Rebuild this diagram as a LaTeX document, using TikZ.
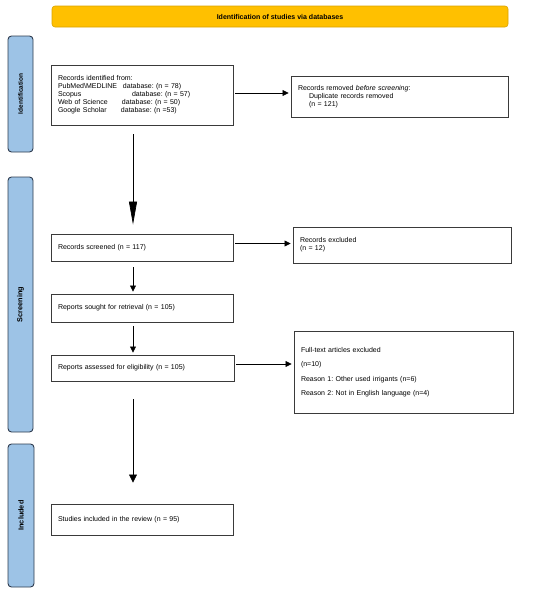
\documentclass[tikz,border=0pt]{standalone}
\usepackage{fontspec}
\setmainfont{Liberation Sans}
\usetikzlibrary{arrows.meta}
\definecolor{hdrfill}{HTML}{FFC000}
\definecolor{hdrdraw}{HTML}{D9A300}
\definecolor{barfill}{HTML}{9DC3E6}
\definecolor{bardraw}{HTML}{2E3B4E}
\definecolor{boxdraw}{HTML}{3A3A3A}
\frenchspacing
\begin{document}
\begin{tikzpicture}[x=1pt,y=-1pt,
  txt/.style={font=\fontsize{7}{8}\selectfont},
  header/.style={draw=hdrdraw, fill=hdrfill, rounded corners=3pt, line width=0.6pt,
    inner sep=0pt, font=\fontsize{7}{8}\selectfont\bfseries},
  sidebar/.style={draw=bardraw, fill=barfill, rounded corners=3.5pt, line width=0.9pt,
    inner sep=0pt, rotate=90, font=\fontsize{7.3}{8}\selectfont\bfseries},
  flowbox/.style={draw=boxdraw, line width=0.9pt, inner sep=0pt, align=left,
    txt},
  arr/.style={draw=black, line width=0.7pt, -{Triangle[width=6pt,length=6pt]}},
  bigarr/.style={draw=black, line width=0.7pt, -{Triangle[width=8pt,length=23pt]}},
  midarr/.style={draw=black, line width=0.7pt, -{Triangle[width=8pt,length=8pt]}}
]
\useasboundingbox (0,0) rectangle (550,592);

% header
\node[header, minimum width=456pt, minimum height=21pt] (hdr) at (280,16.5)
  {Identification of studies via databases};

% side bars
\node[sidebar, minimum width=116pt, minimum height=25pt, font=\fontsize{6.5}{7}\selectfont\bfseries] (sbid) at (20.5,94) {Identification};
\node[sidebar, minimum width=255pt, minimum height=25pt] (sbscr) at (20.5,304.5) {Screening};
\node[sidebar, minimum width=143pt, minimum height=26pt] (sbinc) at (21,515.5) {Included};

% boxes
\node[flowbox, minimum width=182pt, minimum height=60pt, text width=168pt] (ident) at (142,95)
  {Records identified from:\\
   \makebox[65pt][l]{PubMed\textbackslash MEDLINE}database: (n = 78)\\
   \makebox[74pt][l]{Scopus}database: (n = 57)\\
   \makebox[64pt][l]{Web of Science}database: (n = 50)\\
   \makebox[63pt][l]{Google Scholar}database: (n =53)};

\node[flowbox, minimum width=217pt, minimum height=41pt, text width=203pt] (removed) at (399.5,96.5)
  {Records removed \textit{before screening}:\\
   \hspace*{11pt}Duplicate records removed\\
   \hspace*{11pt}(n = 121)};

\node[flowbox, minimum width=182pt, minimum height=27pt, text width=168pt] (screened) at (142,247.5)
  {Records screened (n = 117)};

\node[flowbox, minimum width=218pt, minimum height=36pt, text width=204pt] (excluded) at (402,245)
  {Records excluded\\(n = 12)};

\node[flowbox, minimum width=182pt, minimum height=28pt, text width=168pt] (sought) at (142,308)
  {Reports sought for retrieval (n = 105)};

\node[flowbox, minimum width=183pt, minimum height=26pt, text width=169pt] (assessed) at (142.5,368)
  {Reports assessed for eligibility (n = 105)};

\node[flowbox, minimum width=219pt, minimum height=82pt, text width=205pt] (fulltext) at (403.5,372)
  {Full-text articles excluded\\[6.5pt]
   (n=10)\\[6.5pt]
   Reason 1: Other used irrigants (n=6)\\[6.5pt]
   Reason 2: Not in English language (n=4)};

\node[flowbox, minimum width=182pt, minimum height=31pt, text width=168pt] (included) at (142,519.5)
  {Studies included in the review (n = 95)\\[2pt]};

% horizontal arrows
\draw[arr] ([xshift=2pt,yshift=2pt]ident.east) -- ([xshift=-2pt,yshift=2pt]ident.east -| removed.west);
\draw[arr] ([xshift=2pt,yshift=4pt]screened.east) -- ([xshift=-2pt,yshift=4pt]screened.east -| excluded.west);
\draw[arr] ([xshift=2pt,yshift=4pt]assessed.east) -- ([xshift=-2pt,yshift=4pt]assessed.east -| fulltext.west);

% vertical arrows
\draw[bigarr] ([xshift=-9pt,yshift=-9pt]ident.south) -- ([xshift=-9pt,yshift=9pt]screened.north);
\draw[arr] ([xshift=-9pt,yshift=-6pt]screened.south) -- ([xshift=-9pt,yshift=2pt]sought.north);
\draw[arr] ([xshift=-9pt,yshift=-4pt]sought.south) -- ([xshift=-9.5pt,yshift=2pt]assessed.north);
\draw[midarr] ([xshift=-9.5pt,yshift=-18pt]assessed.south) -- ([xshift=-9pt,yshift=21pt]included.north);
\end{tikzpicture}
\end{document}
